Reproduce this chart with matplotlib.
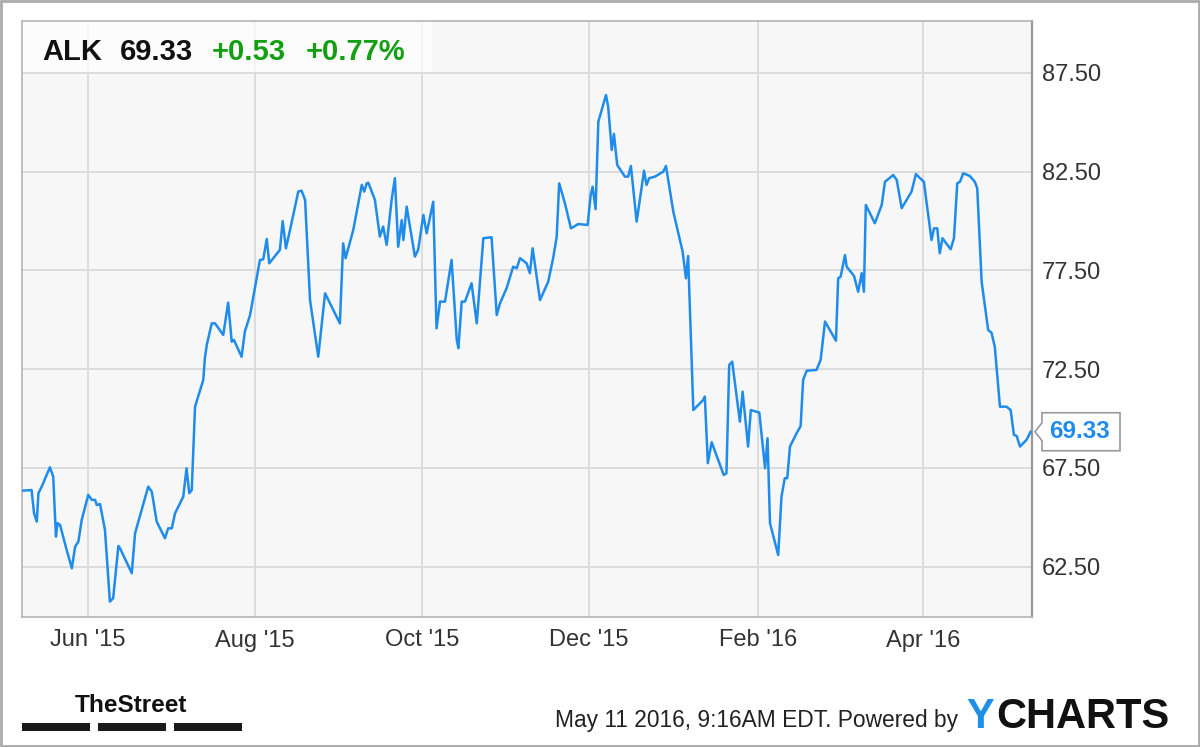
import numpy as np
import matplotlib
matplotlib.use("Agg")
import matplotlib.pyplot as plt
import matplotlib.dates as mdates
from matplotlib.patches import Rectangle, Polygon
from matplotlib.ticker import FixedLocator, FuncFormatter

plt.rcParams["font.family"] = ["Liberation Sans", "DejaVu Sans"]

# ALK closing prices (days since 2015-05-08, price)
start = np.datetime64("2015-05-08")
days = [
    0.5, 3.5, 4.4, 5.4, 6.0, 7.2, 10.2, 11.4, 12.4, 13.0, 13.9, 16.3, 18.2, 19.4,
    20.6, 21.8, 24.2, 25.5, 26.7, 27.3, 28.5, 30.3, 32.1, 33.3, 35.2, 35.8, 40.1,
    41.3, 46.1, 47.4, 49.2, 52.2, 53.4, 54.7, 55.9, 58.9, 60.1, 61.1, 62.0, 63.2,
    66.2, 66.8, 67.5, 69.3, 70.5, 73.5, 75.3, 76.6, 77.4, 80.2, 81.4, 83.3, 86.9,
    88.1, 89.4, 90.3, 94.2, 95.2, 96.4, 97.9, 100.9, 102.1, 103.4, 105.2, 108.2,
    110.7, 116.1, 117.3, 118.2, 121.0, 124.1, 125.0, 125.9, 126.5, 128.9, 130.7,
    131.9, 133.2, 135.0, 136.2, 137.4, 138.7, 139.3, 140.5, 143.5, 144.7, 146.6,
    147.8, 150.2, 151.4, 152.7, 154.5, 156.9, 158.8, 159.4, 160.6, 161.8, 164.2,
    166.1, 168.5, 171.5, 173.4, 174.6, 177.0, 179.4, 180.7, 181.9, 184.3, 185.5,
    186.5, 189.2, 192.2, 194.0, 195.3, 196.2, 198.3, 200.5, 203.2, 206.6, 207.7,
    208.4, 209.5, 210.5, 213.3, 214.1, 215.4, 216.2, 217.4, 220.2, 221.4, 222.4,
    224.5, 227.2, 228.1, 229.1, 231.2, 234.2, 235.2, 237.9, 241.3, 242.5, 243.3,
    245.2, 248.8, 249.4, 250.5, 251.9, 256.3, 257.3, 258.3, 259.4, 262.2, 263.2,
    265.2, 266.2, 269.3, 271.4, 272.3, 273.2, 276.2, 277.4, 278.6, 279.5, 280.5,
    282.9, 284.4, 285.3, 286.6, 290.2, 291.7, 293.3, 297.3, 298.1, 299.0, 300.6,
    301.2, 303.9, 305.4, 306.7, 307.5, 308.2, 311.5, 314.0, 315.2, 318.2, 319.5,
    321.3, 324.9, 326.5, 328.0, 329.4, 332.2, 333.1, 334.3, 335.2, 336.2, 339.2,
    340.4, 341.6, 342.6, 343.8, 346.2, 348.0, 348.9, 350.5, 352.9, 354.1, 355.3,
    357.2, 359.6, 361.1, 362.3, 363.3, 364.5, 366.9, 368.4,
]
prices = [
    66.35, 66.38, 65.20, 64.78, 66.22, 66.55, 67.53, 67.06, 64.02, 64.70, 64.61,
    63.35, 62.42, 63.51, 63.77, 64.86, 66.13, 65.88, 65.88, 65.62, 65.67, 64.36,
    60.73, 60.90, 63.55, 63.43, 62.17, 64.19, 66.55, 66.30, 64.78, 63.94, 64.44,
    64.44, 65.20, 66.04, 67.48, 66.22, 66.38, 70.60, 71.95, 73.07, 73.73, 74.82,
    74.82, 74.23, 75.87, 73.89, 73.98, 73.13, 74.40, 75.24, 78.03, 78.06, 79.09,
    77.86, 78.54, 80.00, 78.62, 79.55, 81.49, 81.54, 81.07, 76.00, 73.13, 76.34,
    74.82, 78.87, 78.12, 79.55, 81.83, 81.49, 81.91, 81.94, 81.07, 79.21, 79.72,
    78.79, 81.07, 82.17, 78.70, 80.05, 79.04, 80.73, 78.20, 78.54, 80.31, 79.38,
    80.98, 74.57, 75.92, 75.92, 78.03, 73.98, 73.56, 75.92, 75.92, 76.85, 74.82,
    79.13, 79.18, 75.24, 75.84, 76.60, 77.69, 77.61, 78.12, 77.86, 77.36, 78.62,
    76.00, 76.93, 78.12, 79.21, 81.91, 80.90, 79.63, 79.85, 79.80, 81.32, 81.74,
    80.60, 85.03, 86.38, 85.79, 83.60, 84.41, 82.84, 82.25, 82.25, 82.79, 79.97,
    82.55, 81.83, 82.17, 82.25, 82.50, 82.79, 80.47, 78.45, 77.10, 78.23, 70.43,
    70.94, 71.11, 67.74, 68.80, 67.14, 67.23, 72.71, 72.88, 69.84, 71.36, 68.58,
    70.43, 70.30, 67.48, 69.00, 64.70, 63.09, 66.04, 66.98, 66.98, 68.58, 69.25,
    69.62, 71.95, 72.42, 72.46, 72.97, 74.91, 73.94, 77.10, 77.18, 78.28, 77.69,
    77.22, 76.42, 77.36, 76.42, 80.81, 79.89, 80.81, 81.99, 82.33, 82.08, 80.65,
    81.49, 82.38, 82.17, 81.99, 79.04, 79.63, 79.63, 78.37, 79.13, 78.57, 79.13,
    81.91, 81.99, 82.42, 82.28, 81.99, 81.66, 76.93, 74.48, 74.35, 73.64, 70.60,
    70.60, 70.43, 69.17, 69.12, 68.58, 68.92, 69.33,
]
y_ticks = [62.5, 67.5, 72.5, 77.5, 82.5, 87.5]
tick_months = [6, 8, 10, 12, 2, 4]

ticker_name = "ALK"
last_price = "69.33"
change = "+0.53"
change_pct = "+0.77%"
footer = "May 11 2016, 9:16AM EDT. Powered by"

line_color = "#1f8ceb"
green = "#12a012"

W, H = 1200, 747
fig = plt.figure(figsize=(W / 100, H / 100), dpi=100)
fig.patch.set_facecolor("white")

# plot area in pixels: x 22..1032, y 21..617
ax = fig.add_axes([22 / W, 1 - 617 / H, 1010 / W, 596 / H])
ax.set_facecolor("#f7f7f7")

x0 = mdates.date2num(start)
xs = x0 + np.array(days)
ax.plot(xs, prices, color=line_color, lw=1.8, solid_joinstyle="round", zorder=3)

ax.set_xlim(x0, x0 + 368.9)
ax.set_ylim(59.95, 90.13)

ax.xaxis.set_major_locator(mdates.MonthLocator(bymonth=tick_months))
ax.xaxis.set_major_formatter(mdates.DateFormatter("%b '%y"))
ax.yaxis.set_major_locator(FixedLocator(y_ticks))
ax.yaxis.set_major_formatter(FuncFormatter(lambda v, p: f"{v:.2f}"))
ax.yaxis.tick_right()
ax.tick_params(axis="both", length=0, labelsize=17, colors="#333333")
ax.tick_params(axis="y", pad=7)
ax.tick_params(axis="x", pad=9)
ax.grid(True, color="#dcdcdc", lw=1.4, zorder=0)
ax.set_axisbelow(True)

for side, sp in ax.spines.items():
    sp.set_color("#b4b4b4")
    sp.set_linewidth(1.2)
ax.spines["right"].set_color("#999999")
ax.spines["right"].set_linewidth(1.6)

# header box
ax.add_patch(Rectangle((0, 1 - 51 / 596), 410 / 1010, 51 / 596,
                       transform=ax.transAxes, facecolor="white", alpha=0.7,
                       edgecolor="none", zorder=2))
hy = 1 - 60 / H
fig.text(42 / W, hy, ticker_name, fontsize=21, fontweight="bold",
         color="#111111", va="baseline")
fig.text(120 / W, hy, last_price, fontsize=21, fontweight="bold",
         color="#111111", va="baseline")
fig.text(212 / W, hy, change, fontsize=21, fontweight="bold",
         color=green, va="baseline")
fig.text(306 / W, hy, change_pct, fontsize=21, fontweight="bold",
         color=green, va="baseline")

# last price marker on the right axis
fig.canvas.draw()
yd = ax.transData.transform((xs[-1], prices[-1]))[1]
poly = Polygon([(1035, yd), (1042, yd + 9), (1042, yd + 19), (1120, yd + 19),
                (1120, yd - 19), (1042, yd - 19), (1042, yd - 9)],
               closed=True, transform=None, facecolor="white",
               edgecolor="#999999", lw=1.2, zorder=5)
fig.patches.append(poly)
fig.text(1080 / W, yd / H, last_price, fontsize=17.5, fontweight="bold",
         color=line_color, ha="center", va="center", zorder=6)

# footer
fig.text(555 / W, 1 - 727 / H, footer, fontsize=16.4, color="#222222",
         va="baseline")
fig.text(966 / W, 1 - 728 / H, "Y", fontsize=30, fontweight="bold",
         color="#1e8fe6", va="baseline")
fig.text(996 / W, 1 - 728 / H, "CHARTS", fontsize=30, fontweight="bold",
         color="#111111", va="baseline")

fig.text(75 / W, 1 - 712 / H, "TheStreet", fontsize=17.6, fontweight="bold",
         color="#111111", va="baseline")
for bx in [22, 98, 174]:
    fig.patches.append(Rectangle((bx / W, 1 - 731 / H), 68 / W, 8 / H,
                                 transform=fig.transFigure, facecolor="#1a1a1a",
                                 edgecolor="none"))

fig.patches.append(Rectangle((0.001, 0.001), 0.998, 0.997, transform=fig.transFigure,
                             fill=False, edgecolor="#aaaaaa", lw=2))

fig.savefig("out.png", dpi=100)
